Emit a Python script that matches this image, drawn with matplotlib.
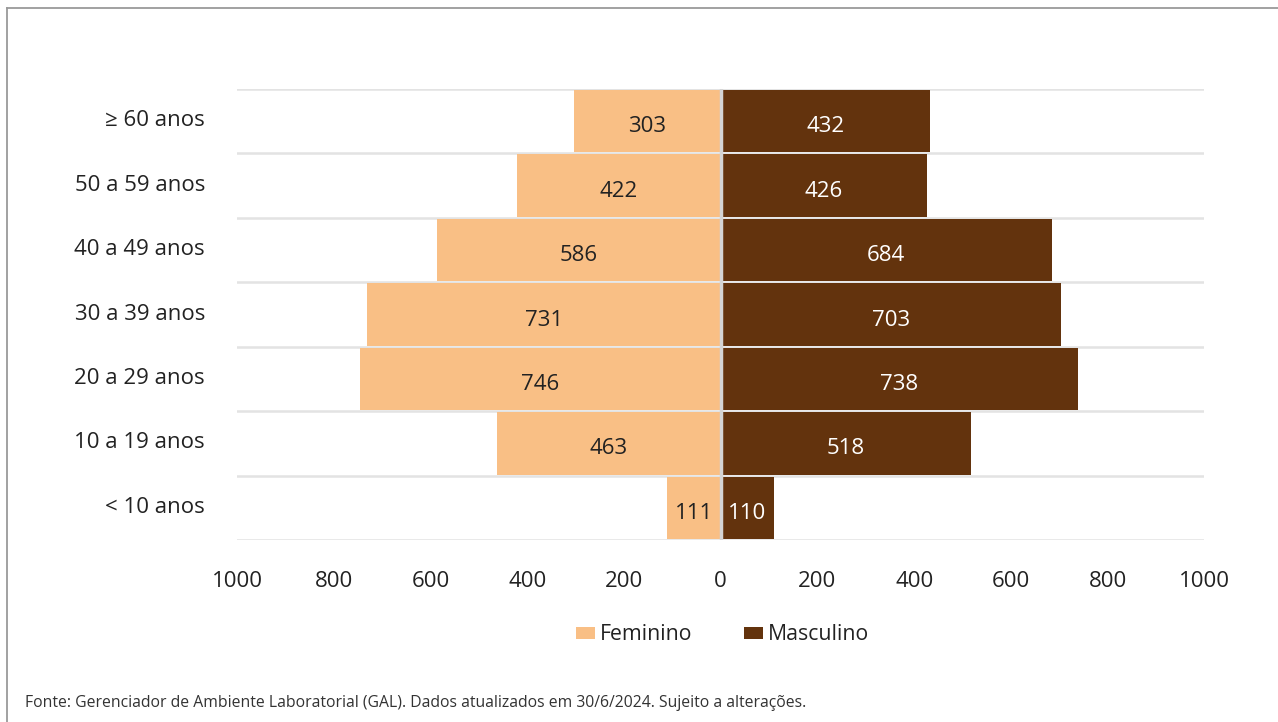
import matplotlib.pyplot as plt
import matplotlib.transforms as mtransforms
from matplotlib.patches import Patch
from matplotlib.lines import Line2D
from matplotlib.ticker import FixedLocator

plt.rcParams['font.family'] = ['Open Sans', 'DejaVu Sans']

# age groups, from bottom to top
faixas = ['< 10 anos', '10 a 19 anos', '20 a 29 anos', '30 a 39 anos',
          '40 a 49 anos', '50 a 59 anos', '≥ 60 anos']
feminino = [111, 463, 746, 731, 586, 422, 303]
masculino = [110, 518, 738, 703, 684, 426, 432]
ticks_x = [-1000, -800, -600, -400, -200, 0, 200, 400, 600, 800, 1000]

cor_fem = '#F9BF85'
cor_masc = '#63330D'
fs = 16

fig = plt.figure(figsize=(12.78, 7.22), dpi=100)
ax = fig.add_axes([0.1854, 0.252, 0.757, 0.6247])

y = list(range(len(faixas)))
ax.barh(y, [-v for v in feminino], height=0.97, color=cor_fem, zorder=3)
ax.barh(y, masculino, height=0.97, color=cor_masc, zorder=3)

for yi, v in zip(y, feminino):
    ax.text(-v / 2, yi - 0.085, str(v), ha='center', va='center', fontsize=fs,
            color='#222222', zorder=5)
for yi, v in zip(y, masculino):
    ax.text(v / 2, yi - 0.085, str(v), ha='center', va='center', fontsize=fs,
            color='white', zorder=5)

# central divider
ax.axvline(0, color='#d4d4d4', lw=2.5, zorder=4)

ax.set_xlim(-1000, 1000)
ax.set_ylim(-0.5, len(faixas) - 0.5)
ax.set_xticks(ticks_x)
ax.set_xticklabels([str(abs(t)) for t in ticks_x])
ax.set_yticks(y)
ax.set_yticklabels(faixas)
ax.yaxis.set_minor_locator(FixedLocator([k - 0.5 for k in range(len(faixas) + 1)]))
ax.grid(which='minor', axis='y', color='#e3e3e3', lw=1.8, zorder=1)
ax.tick_params(which='both', length=0)
ax.tick_params(axis='x', labelsize=fs, pad=22, colors='#222222')
ax.tick_params(axis='y', labelsize=fs, pad=23, colors='#222222')
for s in ax.spines.values():
    s.set_visible(False)

# nudge the age labels slightly upward
shift = mtransforms.ScaledTranslation(0, 3 / 100, fig.dpi_scale_trans)
for lbl in ax.get_yticklabels():
    lbl.set_transform(lbl.get_transform() + shift)

handles = [Patch(facecolor=cor_fem, label='Feminino'),
           Patch(facecolor=cor_masc, label='Masculino')]
fig.legend(handles=handles, loc='center', bbox_to_anchor=(0.5655, 0.121),
           ncol=2, frameon=False, fontsize=15.3, handlelength=0.9,
           handleheight=0.5, handletextpad=0.25, columnspacing=2.4,
           labelcolor='#222222')

fig.text(0.0196, 0.026, 'Fonte: Gerenciador de Ambiente Laboratorial (GAL). '
         'Dados atualizados em 30/6/2024. Sujeito a alterações.',
         fontsize=11.3, color='#333333', ha='left', va='center')

# outer frame (left and top edges)
fig.add_artist(Line2D([0.0055, 0.0055], [0, 0.989], color='#9a9a9a', lw=1.3,
                      transform=fig.transFigure))
fig.add_artist(Line2D([0.0055, 1], [0.989, 0.989], color='#9a9a9a', lw=1.3,
                      transform=fig.transFigure))

fig.savefig('out.png', dpi=100, facecolor='white')
